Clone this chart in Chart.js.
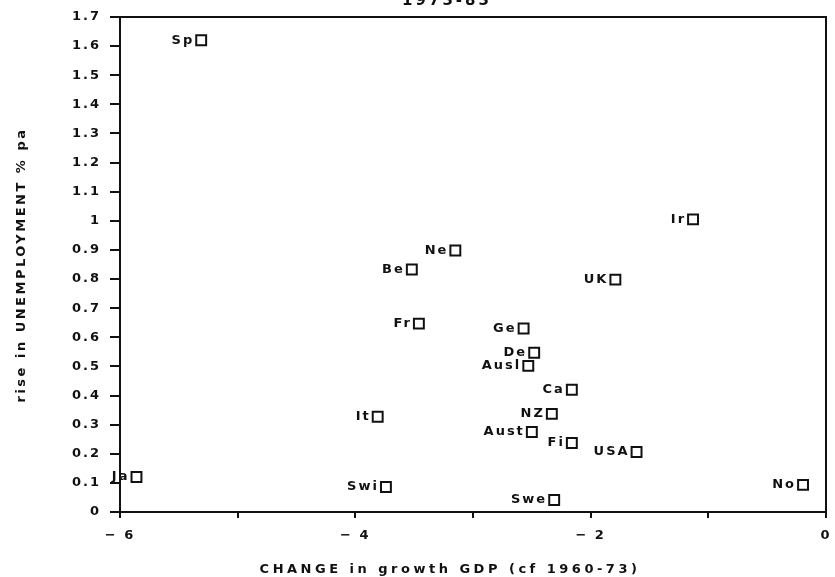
<!DOCTYPE html>
<html>
<head>
<meta charset="utf-8">
<script src="https://cdn.jsdelivr.net/npm/chart.js@4/dist/chart.umd.min.js"></script>
<style>
  html, body { margin: 0; padding: 0; background: #fff; }
  #wrap { width: 835px; height: 577px; }
</style>
</head>
<body>
<div id="wrap"><canvas id="chart"></canvas></div>
<script>
// Daten
const countries = ["Sp", "Ir", "Ne", "Be", "UK", "Fr", "Ge", "De", "Ausl", "Ca",
                   "NZ", "Aust", "Fi", "USA", "No", "Swe", "It", "Swi", "Ja"];
const gdpChange = [-5.31, -1.13, -3.15, -3.52, -1.79, -3.46, -2.57, -2.48, -2.53, -2.16,
                   -2.33, -2.50, -2.16, -1.61, -0.195, -2.31, -3.81, -3.74, -5.86];
const unempRise = [1.62, 1.005, 0.898, 0.833, 0.798, 0.647, 0.63, 0.547, 0.502, 0.42,
                   0.337, 0.275, 0.237, 0.206, 0.093, 0.041, 0.327, 0.086, 0.12];
const titleText = "1973-83";
const xTitle = "CHANGE in growth GDP (cf 1960-73)";
const yTitle = "rise in UNEMPLOYMENT % pa";

const FONT = "'DejaVu Sans', sans-serif";

const points = countries.map((c, i) => ({ x: gdpChange[i], y: unempRise[i] }));

// Sperrschrift für die Achsenbeschriftung (wie alter Plotter-Font)
const spacingPlugin = {
  id: "spacing",
  beforeDraw(chart) {
    chart.ctx.letterSpacing = "2px";
  }
};

// Rahmen, Beschriftungen der Punkte und Titel
const extrasPlugin = {
  id: "extras",
  afterDatasetsDraw(chart) {
    const ctx = chart.ctx;
    const area = chart.chartArea;
    ctx.save();
    // Rahmen rund um die Plotfläche
    ctx.strokeStyle = "#111";
    ctx.lineWidth = 2;
    ctx.strokeRect(area.left, area.top, area.right - area.left, area.bottom - area.top);

    // Länderkürzel links vom Marker
    ctx.fillStyle = "#111";
    ctx.font = "bold 13px " + FONT;
    ctx.letterSpacing = "2px";
    ctx.textAlign = "right";
    ctx.textBaseline = "middle";
    const meta = chart.getDatasetMeta(0);
    meta.data.forEach((pt, i) => {
      ctx.fillText(countries[i], pt.x - 7, pt.y);
    });

    // Titel (oben halb abgeschnitten wie im Original)
    ctx.textAlign = "center";
    ctx.textBaseline = "bottom";
    ctx.font = "bold 15px " + FONT;
    ctx.letterSpacing = "3px";
    ctx.fillText(titleText, 447, 9);

    // x-Achsentitel
    ctx.font = "bold 13px " + FONT;
    ctx.letterSpacing = "3.5px";
    ctx.textBaseline = "middle";
    ctx.fillText(xTitle, 450, 570);

    // y-Achsentitel (gedreht)
    ctx.translate(22, 265);
    ctx.rotate(-Math.PI / 2);
    ctx.letterSpacing = "2.5px";
    ctx.fillText(yTitle, 0, 0);
    ctx.restore();
  }
};

new Chart(document.getElementById("chart"), {
  type: "scatter",
  data: {
    datasets: [{
      data: points,
      pointStyle: "rect",
      pointRadius: 7,
      pointHoverRadius: 7,
      pointBackgroundColor: "#fff",
      pointBorderColor: "#111",
      pointBorderWidth: 2
    }]
  },
  options: {
    responsive: true,
    maintainAspectRatio: false,
    animation: false,
    layout: { padding: { top: 17, right: 7, left: 0, bottom: 0 } },
    plugins: {
      legend: { display: false },
      tooltip: { enabled: false }
    },
    scales: {
      x: {
        type: "linear",
        min: -6,
        max: 0,
        border: { display: true, color: "#111", width: 2 },
        grid: { drawOnChartArea: false, color: "#111", lineWidth: 2, tickLength: 6 },
        ticks: {
          stepSize: 1,
          color: "#111",
          font: { family: FONT, size: 13, weight: "bold" },
          padding: 10,
          maxRotation: 0,
          callback: (v) => (v % 2 === 0 ? (v === 0 ? "0" : "\u2212 " + Math.abs(v)) : "")
        },
        afterFit: (scale) => {
          scale.height = 65;
          // Plotfläche soll bis x=828 reichen
          scale.paddingRight = 0;
          scale.paddingLeft = 0;
        }
      },
      y: {
        type: "linear",
        min: 0,
        max: 1.7,
        border: { display: true, color: "#111", width: 2 },
        grid: { drawOnChartArea: false, color: "#111", lineWidth: 2, tickLength: 10 },
        ticks: {
          stepSize: 0.1,
          color: "#111",
          font: { family: FONT, size: 13, weight: "bold" },
          padding: 9,
          callback: (v) => String(Number(v.toFixed(1)))
        },
        afterFit: (scale) => {
          scale.width = 120;
          scale.paddingTop = 0;
          scale.paddingBottom = 0;
        }
      }
    }
  },
  plugins: [spacingPlugin, extrasPlugin]
});
</script>
</body>
</html>
